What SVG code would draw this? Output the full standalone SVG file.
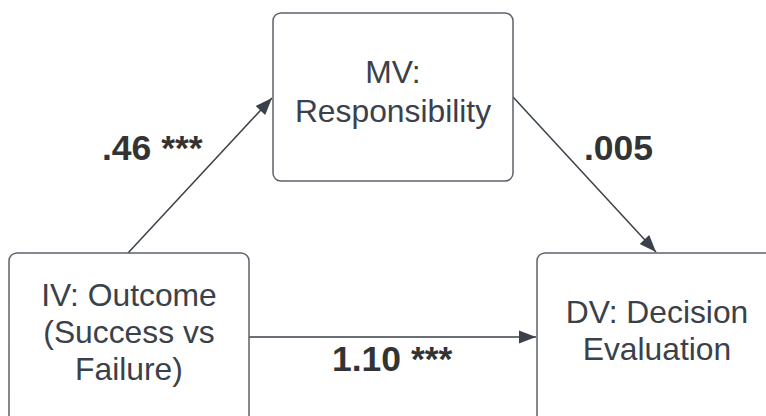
<svg xmlns="http://www.w3.org/2000/svg" width="766" height="416" viewBox="0 0 766 416">
  <style>
    .box { fill: #ffffff; stroke: #5e6269; stroke-width: 1.5; }
    .node-text { font-family: "Liberation Sans", Arial, sans-serif; font-size: 31.8px; fill: #3a414a; text-anchor: middle; }
    .edge { stroke: #3a414a; stroke-width: 1.5; fill: none; marker-end: url(#arrow); }
    .edge-label { font-family: "Liberation Sans", Arial, sans-serif; font-size: 35.5px; font-weight: bold; fill: #333333; }
  </style>
  <defs>
    <marker id="arrow" markerUnits="userSpaceOnUse" markerWidth="20" markerHeight="16" viewBox="-18 -8 20 16" refX="0" refY="0" orient="auto">
      <path d="M0,0 L-17,-6.5 L-17,6.5 Z" fill="#3a414a"/>
    </marker>
  </defs>
  <rect width="766" height="416" fill="#ffffff"/>

  <g id="connectors">
    <line class="edge" x1="128" y1="253" x2="272" y2="98"/>
    <line class="edge" x1="513" y1="97" x2="656" y2="252"/>
    <line class="edge" x1="249" y1="337" x2="536" y2="337"/>
  </g>

  <g id="mv">
    <rect class="box" x="273" y="13" width="240" height="168" rx="8"/>
    <text class="node-text" x="393" y="83">MV:</text>
    <text class="node-text" x="393" y="122">Responsibility</text>
  </g>

  <g id="iv">
    <rect class="box" x="9" y="253" width="240" height="180" rx="8"/>
    <text class="node-text" x="129" y="306">IV: Outcome</text>
    <text class="node-text" x="129" y="343">(Success vs</text>
    <text class="node-text" x="129" y="380">Failure)</text>
  </g>

  <g id="dv">
    <rect class="box" x="537" y="253" width="240" height="180" rx="8"/>
    <text class="node-text" x="657" y="323">DV: Decision</text>
    <text class="node-text" x="657" y="360">Evaluation</text>
  </g>

  <g id="labels">
    <text class="edge-label" x="102" y="160">.46 ***</text>
    <text class="edge-label" x="584" y="160">.005</text>
    <text class="edge-label" x="332" y="371">1.10 ***</text>
  </g>
</svg>
